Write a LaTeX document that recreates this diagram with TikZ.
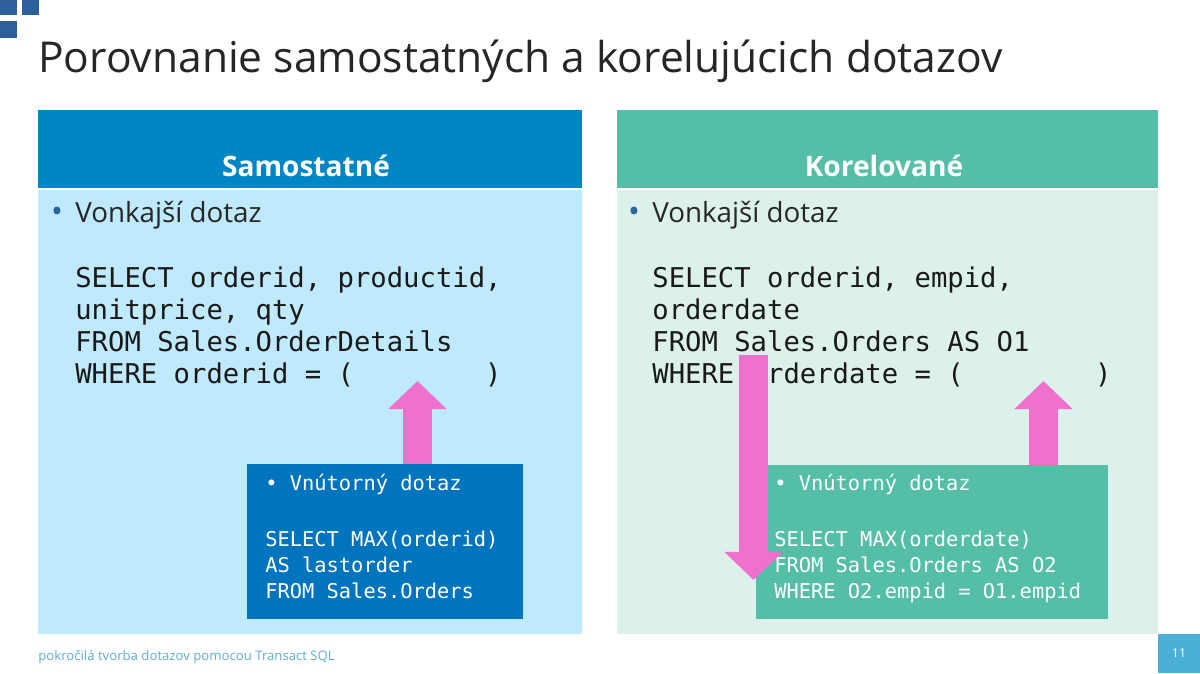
\documentclass[tikz,border=0pt]{standalone}
\usepackage{fontspec}
\setmainfont{Open Sans}
\setmonofont{DejaVu Sans Mono}
\usetikzlibrary{arrows.meta, positioning}
\definecolor{logoblue}{RGB}{45,95,155}
\definecolor{samohead}{RGB}{0,134,197}
\definecolor{samobody}{RGB}{191,233,252}
\definecolor{samoinner}{RGB}{0,117,190}
\definecolor{korhead}{RGB}{84,190,167}
\definecolor{korbody}{RGB}{220,241,236}
\definecolor{arrowpink}{RGB}{240,112,206}
\definecolor{bulletblue}{RGB}{40,100,160}
\definecolor{footblue}{RGB}{95,172,212}
\definecolor{pageblue}{RGB}{75,176,214}

\begin{document}
\begin{tikzpicture}[x=0.02cm, y=-0.02cm,
		panel/.style={anchor=north west, inner sep=0pt, outer sep=0pt},
		headtext/.style={anchor=base, font=\fontsize{16}{19}\selectfont\bfseries, text=white},
		outertext/.style={anchor=base west, inner sep=0pt, font=\fontsize{15.8}{18}\selectfont, text=black!85},
		dot/.style={anchor=base, inner sep=0pt, font=\fontsize{18}{20}\selectfont, text=bulletblue},
		code/.style={anchor=base west, inner sep=0pt, font=\fontsize{15.5}{18}\ttfamily, text=black!90},
		incode/.style={anchor=base west, inner sep=0pt, font=\fontsize{11.6}{14}\ttfamily, text=white},
		bigarrow/.style={draw=arrowpink, line width=16.4pt, -{Triangle[length=16pt, width=32.3pt]}}
	]
		\useasboundingbox (0,0) rectangle (1200,673);
		% logo squares and title
		\fill[logoblue] (0,0) rectangle (17,15);
		\fill[logoblue] (22,0) rectangle (39,15);
		\fill[logoblue] (0,21) rectangle (17,38);
		\node[anchor=base west, inner sep=0pt, font=\fontsize{24.2}{28}\selectfont, text=black!85] (title) at (38,72) {Porovnanie samostatných a korelujúcich dotazov};

		% left panel
		\node[panel, fill=samohead, minimum width=10.88cm, minimum height=1.56cm] (lhead) at (38,110) {};
		\node[panel, fill=samobody, minimum width=10.88cm, minimum height=8.88cm] (lbody) at (38,190) {};
		\node[headtext] (lname) at (306,176) {Samostatné};
		\node[dot] (ldot) at (57,222) {•};
		\node[outertext] (lvonk) at (75,222) {Vonkajší dotaz};
		\node[code] (lsel) at (75,287) {SELECT orderid, productid,};
		\node[code] (lunit) at (75,319) {unitprice, qty};
		\node[code] (lfrom) at (75,351.5) {FROM Sales.OrderDetails};
		\node[code] (lwhere) at (75,383.5) {WHERE orderid = (~~~~~~~~)};
		\node[panel, fill=samoinner, minimum width=5.52cm, minimum height=3.1cm] (linner) at (247,464) {};
		\node[incode] (lin1) at (265,490) {• Vnútorný dotaz};
		\node[incode] (lin2) at (265,546) {SELECT MAX(orderid)};
		\node[incode] (lin3) at (265,572) {AS lastorder};
		\node[incode] (lin4) at (265,598) {FROM Sales.Orders};
		\coordinate (lup) at (417.5,381);
		\draw[bigarrow] (linner.north -| lup) -- (lup);

		% right panel
		\node[panel, fill=korhead, minimum width=10.82cm, minimum height=1.56cm] (rhead) at (617,110) {};
		\node[panel, fill=korbody, minimum width=10.82cm, minimum height=8.88cm] (rbody) at (617,190) {};
		\node[headtext] (rname) at (884,176) {Korelované};
		\node[dot] (rdot) at (634,222) {•};
		\node[outertext] (rvonk) at (652,222) {Vonkajší dotaz};
		\node[code] (rsel) at (652,287) {SELECT orderid, empid,};
		\node[code] (rdate) at (652,319) {orderdate};
		\node[code] (rfrom) at (652,351.5) {FROM Sales.Orders AS O1};
		\node[code] (rwhere) at (652,383.5) {WHERE orderdate = (~~~~~~~~)};
		\node[panel, fill=korhead, minimum width=7.04cm, minimum height=3.08cm] (rinner) at (756,465) {};
		\node[incode] (rin1) at (774,490) {• Vnútorný dotaz};
		\node[incode] (rin2) at (774,546) {SELECT MAX(orderdate)};
		\node[incode] (rin3) at (774,572) {FROM Sales.Orders AS O2};
		\node[incode] (rin4) at (774,598) {WHERE O2.empid = O1.empid};
		\coordinate (rup) at (1043.5,381);
		\draw[bigarrow] (rinner.north -| rup) -- (rup);
		\coordinate (rdowntop) at (753.5,355);
		\coordinate (rdowntip) at (753.5,580);
		\draw[bigarrow] (rdowntop) -- (rdowntip);

		% footer
		\node[anchor=base west, inner sep=0pt, font=\fontsize{7.5}{9}\selectfont, text=footblue] (foot) at (38,660) {pokročilá tvorba dotazov pomocou Transact SQL};
		\node[panel, fill=pageblue, minimum width=0.84cm, minimum height=0.78cm] (pagebox) at (1158,634) {};
		\node[font=\fontsize{7}{8}\selectfont, text=white] (pagenum) at (pagebox.center) {11};
	\end{tikzpicture}
\end{document}
